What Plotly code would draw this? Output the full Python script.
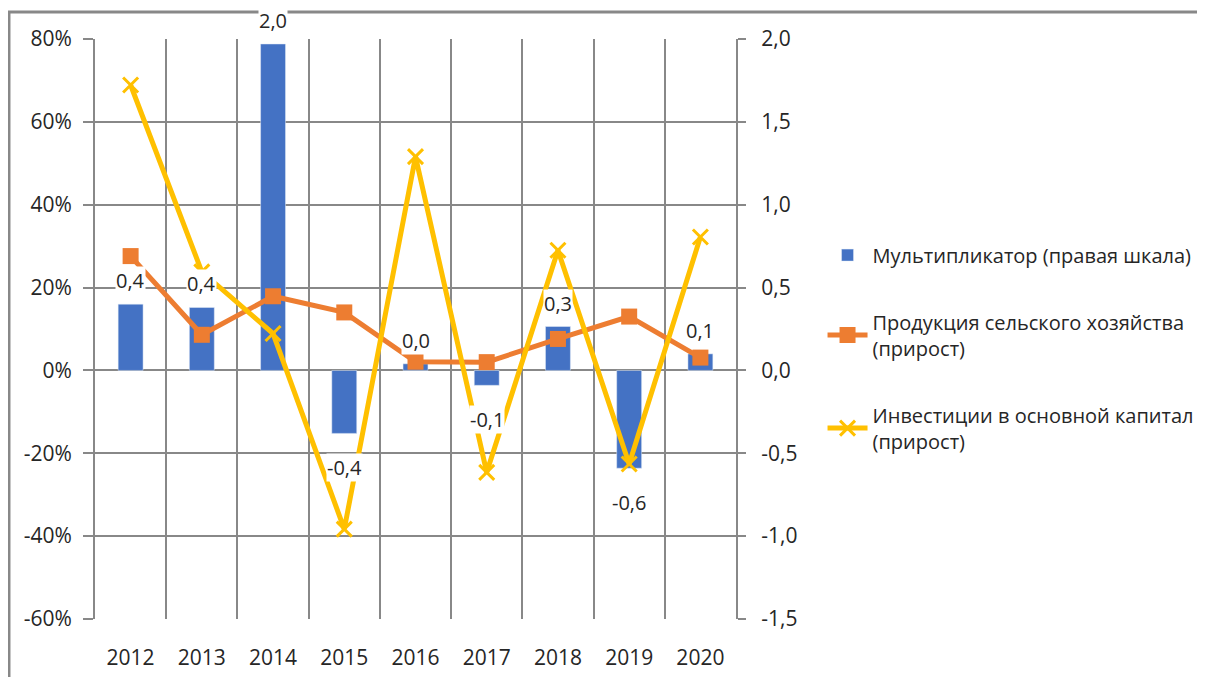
import plotly.graph_objects as go

years = ["2012", "2013", "2014", "2015", "2016", "2017", "2018", "2019", "2020"]
multiplier = [0.40, 0.38, 1.97, -0.38, 0.04, -0.09, 0.265, -0.59, 0.10]
agri_growth = [27.6, 8.6, 17.9, 14.0, 2.1, 2.0, 7.6, 13.0, 3.1]
invest_growth = [68.9, 23.8, 8.9, -38.3, 51.6, -24.6, 29.0, -22.6, 32.2]

left_tickvals = [-60, -40, -20, 0, 20, 40, 60, 80]
left_ticktext = ["-60%", "-40%", "-20%", "0%", "20%", "40%", "60%", "80%"]
right_tickvals = [-1.5, -1.0, -0.5, 0.0, 0.5, 1.0, 1.5, 2.0]
right_ticktext = ["-1,5", "-1,0", "-0,5", "0,0", "0,5", "1,0", "1,5", "2,0"]

names = ["Мультипликатор (правая шкала)",
         "Продукция сельского хозяйства<br>(прирост)",
         "Инвестиции в основной капитал<br>(прирост)"]

FONT = "Open Sans"
GRID = "#888888"
TXT = "#262626"
FS = 20

fig = go.Figure()
fig.add_trace(go.Bar(x=years, y=multiplier, yaxis="y", name=names[0],
                     marker=dict(color="#4472C4"), width=0.35,
                     legendgroup="a"))
fig.add_trace(go.Scatter(x=years, y=agri_growth, yaxis="y2", name=names[1],
                         mode="lines+markers",
                         line=dict(color="#ED7D31", width=5),
                         marker=dict(symbol="square", size=16, color="#ED7D31"),
                         legendgroup="b"))
fig.add_trace(go.Scatter(x=years, y=invest_growth, yaxis="y2", name=names[2],
                         mode="lines+markers",
                         line=dict(color="#FFC000", width=5),
                         marker=dict(symbol="x-thin", size=15,
                                     line=dict(color="#FFC000", width=3)),
                         legendgroup="c"))

for i, v in enumerate(multiplier):
    txt = f"{v:.1f}".replace(".", ",")
    if v >= 0:
        fig.add_annotation(x=i, y=v, xref="x", yref="y", text=txt,
                           showarrow=False, yanchor="bottom", yshift=9,
                           bgcolor="white", borderpad=0,
                           font=dict(family=FONT, size=FS, color=TXT))
    else:
        fig.add_annotation(x=i, y=v, xref="x", yref="y", text=txt,
                           showarrow=False, yanchor="top", yshift=-20,
                           bgcolor="white", borderpad=0,
                           font=dict(family=FONT, size=FS, color=TXT))

fig.add_shape(type="rect", xref="paper", yref="paper",
              x0=-0.1342, x1=1.80, y0=-0.2, y1=1.0466,
              line=dict(color=GRID, width=3), fillcolor="rgba(0,0,0,0)",
              layer="below")

fig.update_layout(
    width=1205, height=677,
    margin=dict(l=87, r=477, t=31, b=66),
    paper_bgcolor="white", plot_bgcolor="white",
    font=dict(family=FONT, size=FS, color=TXT),
    xaxis=dict(type="category", range=[-0.5, len(years) - 0.5],
               tickson="boundaries", showgrid=True,
               gridcolor=GRID, gridwidth=2, ticks="", showline=False,
               tickfont=dict(size=21), ticklabelstandoff=24),
    yaxis=dict(side="right", range=[-1.5, 2.0], tickvals=right_tickvals,
               ticktext=right_ticktext, showgrid=True, gridcolor=GRID,
               gridwidth=2, zeroline=False, showline=True, linecolor=GRID,
               linewidth=2, ticks="outside", ticklen=8, tickcolor=GRID,
               tickwidth=2, ticklabelstandoff=11, tickfont=dict(size=21)),
    yaxis2=dict(side="left", overlaying="y", range=[-60, 80],
                tickvals=left_tickvals, ticktext=left_ticktext,
                showgrid=False, zeroline=False, showline=True,
                linecolor=GRID, linewidth=2, ticks="outside", ticklen=10,
                tickcolor=GRID, tickwidth=2, ticklabelstandoff=7,
                tickfont=dict(size=21)),
    legend=dict(x=1.135, y=0.661, xanchor="left", yanchor="top",
                font=dict(family=FONT, size=FS, color=TXT),
                tracegroupgap=38, itemwidth=40, bgcolor="rgba(0,0,0,0)"),
    showlegend=True,
)

fig.write_html("out.html")
